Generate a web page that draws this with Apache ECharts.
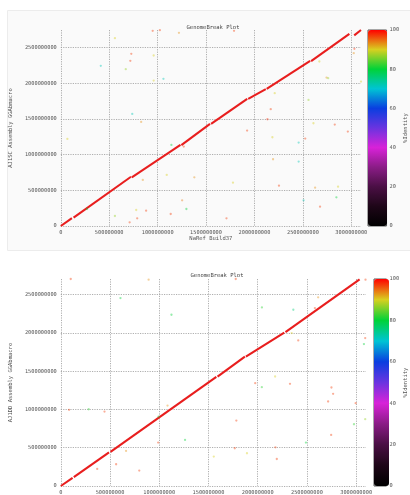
<!DOCTYPE html>
<html>
<head>
<meta charset="utf-8">
<script src="https://cdn.jsdelivr.net/npm/echarts@6/dist/echarts.min.js"></script>
<style>
  html, body { margin: 0; padding: 0; background: #fff; }
  #main { width: 410px; height: 495px; }
</style>
</head>
<body>
<div id="main"></div>
<script>
// all positions in Mb (x1e6 bp)
// aligned blocks along the diagonal: [xStart, yStart, xEnd, yEnd]
var topBlocks = [
  [0, 0, 115, 110], [132, 118, 725, 690], [733, 682, 1236, 1136],
  [1245, 1132, 1541, 1430], [1552, 1430, 1925, 1780], [1935, 1780, 2117, 1916],
  [2126, 1920, 2575, 2313], [2585, 2310, 2980, 2690], [3030, 2670, 3100, 2745]
];
// scattered hits: [x, y, identity]
var topDots = [
  [949, 2734, 97], [1023, 2743, 97], [1220, 2706, 93], [1789, 2734, 97],
  [559, 2631, 90], [728, 2411, 97], [718, 2313, 97], [671, 2196, 87],
  [413, 2243, 72], [959, 2388, 90], [959, 2037, 90], [1060, 2061, 72],
  [738, 1570, 72], [830, 1458, 93], [68, 1220, 90], [1142, 1136, 80],
  [1270, 1112, 97], [1094, 715, 90], [847, 645, 93], [1379, 682, 93],
  [1778, 607, 90], [559, 140, 87], [711, 51, 97], [779, 224, 90],
  [789, 107, 97], [881, 215, 97], [1135, 168, 97], [1253, 360, 94],
  [1297, 238, 80], [271, 238, 80], [1711, 107, 97], [1924, 1336, 97],
  [2168, 1636, 97], [2134, 1495, 98], [2185, 1243, 90], [2209, 1860, 90],
  [2192, 935, 93], [2253, 565, 97], [2456, 1168, 72], [2456, 902, 72],
  [2524, 1224, 97], [2558, 1766, 87], [2609, 1439, 90], [2626, 537, 93],
  [2507, 360, 72], [2677, 271, 97], [2670, 2304, 90], [2744, 2079, 93],
  [2761, 2070, 87], [2829, 1421, 97], [2964, 1322, 97], [2846, 402, 80],
  [2863, 551, 90], [3032, 2481, 98], [3025, 2421, 93], [3100, 2023, 90]
];
var botBlocks = [
  [0, 0, 120, 105], [132, 115, 490, 440], [505, 445, 1580, 1425],
  [1592, 1430, 1870, 1690], [1880, 1690, 2270, 2005], [2282, 2010, 3035, 2700]
];
var botDots = [
  [101, 2705, 97], [892, 2696, 93], [1777, 2705, 97], [3095, 2696, 97],
  [606, 2456, 80], [1124, 2238, 80], [2043, 2334, 82], [2362, 2303, 76],
  [2614, 2465, 93], [2581, 2325, 97], [2345, 1998, 90], [2412, 1902, 97],
  [3092, 1933, 97], [3079, 1854, 80], [1975, 1344, 97], [2042, 1291, 82],
  [2177, 1431, 90], [2328, 1335, 97], [2749, 1287, 97], [2766, 1204, 97],
  [2715, 1104, 97], [2995, 1082, 97], [84, 995, 97], [283, 1003, 82],
  [444, 973, 97], [993, 907, 80], [1084, 1051, 93], [1783, 855, 97],
  [989, 567, 97], [1262, 602, 80], [2978, 807, 82], [3092, 873, 87],
  [2490, 567, 80], [2746, 668, 97], [2180, 506, 97], [2194, 353, 97],
  [1891, 428, 90], [1767, 493, 97], [1554, 384, 90], [663, 458, 93],
  [562, 284, 97], [370, 223, 97], [797, 201, 97]
];
var identityColors = ['#000000', '#1e0618', '#4a0f44', '#8a1c86', '#d822d8', '#6a34e0',
  '#0a3ee0', '#00c4d4', '#00d238', '#d8d020', '#ff0000'];

var MB = 1e6;
var mono = 'DejaVu Sans Mono';
var txt = '#555';

function toLines(blocks) {
  return blocks.map(function (b) {
    return { coords: [[b[0] * MB, b[1] * MB], [b[2] * MB, b[3] * MB]] };
  });
}
function toDots(dots) {
  return dots.map(function (d) { return [d[0] * MB, d[1] * MB, d[2]]; });
}

function posAxis(idx, max, name, gap, pos) {
  return {
    gridIndex: idx, type: 'value', min: 0, max: max, interval: 5e8, position: pos,
    name: name, nameLocation: 'middle', nameGap: gap,
    nameTextStyle: { fontFamily: mono, fontSize: 5.5, color: txt },
    axisLine: { show: false }, axisTick: { show: false },
    axisLabel: { fontFamily: mono, fontSize: 5.3, color: txt, margin: 4, showMaxLabel: false,
      formatter: function (v) { return String(Math.round(v)); } },
    splitLine: { show: true, showMaxLine: false, lineStyle: { color: '#9a9a9a', width: 0.8, type: [1.2, 1.2] } }
  };
}
function barAxis(idx) {
  return {
    gridIndex: idx, type: 'value', min: 0, max: 100, interval: 20, position: 'right',
    name: '%Identity', nameLocation: 'middle', nameGap: 9,
    nameTextStyle: { fontFamily: mono, fontSize: 5.5, color: txt },
    axisLine: { show: false }, axisTick: { show: false }, splitLine: { show: false },
    axisLabel: { fontFamily: mono, fontSize: 5.3, color: txt, margin: 3 }
  };
}

var chart = echarts.init(document.getElementById('main'));
chart.setOption({
  animation: false,
  backgroundColor: '#fff',
  graphic: [{
    type: 'rect', left: 7, top: 10, z: -10, silent: true,
    shape: { width: 403, height: 240 },
    style: { fill: '#fafafa', stroke: '#ececec', lineWidth: 1 }
  }],
  title: [
    { text: 'GenomeBreak Plot', left: 208, top: 20, textAlign: 'center',
      textStyle: { fontFamily: mono, fontSize: 5.5, fontWeight: 'normal', color: '#444' } },
    { text: 'GenomeBreak Plot', left: 212, top: 268, textAlign: 'center',
      textStyle: { fontFamily: mono, fontSize: 5.5, fontWeight: 'normal', color: '#444' } }
  ],
  grid: [
    { left: 55, top: 30, width: 306, height: 196 },
    { left: 59, top: 279, width: 307, height: 207 },
    { left: 368, top: 30, width: 19, height: 196, show: true, borderColor: '#555', borderWidth: 1 },
    { left: 374, top: 279, width: 15, height: 207, show: true, borderColor: '#555', borderWidth: 1 }
  ],
  xAxis: [
    posAxis(0, 3.1e9, 'NaRef Build37', 10, 'bottom'),
    posAxis(1, 3.1e9, '', 10, 'bottom'),
    { gridIndex: 2, show: false, min: 0, max: 1 },
    { gridIndex: 3, show: false, min: 0, max: 1 }
  ],
  yAxis: [
    posAxis(0, 2.745e9, 'AJ1SC Assembly GGAbmacro', 30, 'left'),
    posAxis(1, 2.705e9, 'AJ1DD Assembly GGAbmacro', 31, 'left'),
    barAxis(2),
    barAxis(3)
  ],
  visualMap: [
    { type: 'continuous', min: 0, max: 100, dimension: 2, seriesIndex: 1, calculable: false,
      hoverLink: false, left: 368, top: 30, itemWidth: 19, itemHeight: 196, padding: 0,
      text: null, showLabel: false, inRange: { color: identityColors } },
    { type: 'continuous', min: 0, max: 100, dimension: 2, seriesIndex: 3, calculable: false,
      hoverLink: false, left: 374, top: 279, itemWidth: 15, itemHeight: 207, padding: 0,
      text: null, showLabel: false, inRange: { color: identityColors } }
  ],
  series: [
    { type: 'lines', coordinateSystem: 'cartesian2d', xAxisIndex: 0, yAxisIndex: 0,
      data: toLines(topBlocks), lineStyle: { color: '#e81e1e', width: 2.1, opacity: 1 } },
    { type: 'scatter', xAxisIndex: 0, yAxisIndex: 0, symbolSize: 2.3,
      itemStyle: { opacity: 0.42 }, data: toDots(topDots) },
    { type: 'lines', coordinateSystem: 'cartesian2d', xAxisIndex: 1, yAxisIndex: 1,
      data: toLines(botBlocks), lineStyle: { color: '#e81e1e', width: 2.1, opacity: 1 } },
    { type: 'scatter', xAxisIndex: 1, yAxisIndex: 1, symbolSize: 2.3,
      itemStyle: { opacity: 0.42 }, data: toDots(botDots) }
  ]
});
</script>
</body>
</html>
